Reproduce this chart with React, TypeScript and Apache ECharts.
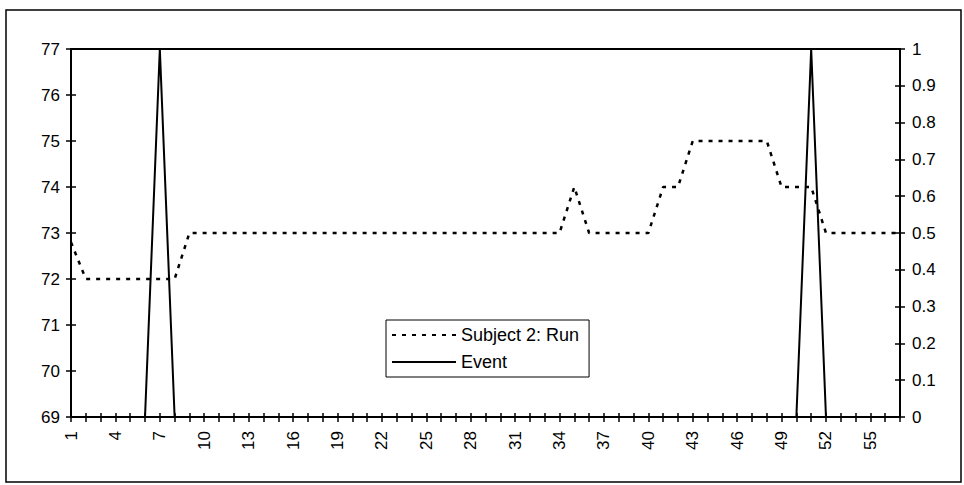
import React, { useEffect, useRef } from "react";
import * as echarts from "echarts";

const categories: string[] = Array.from({ length: 57 }, (_, i) => String(i + 1));

const runValues: number[] = [
  72.8, 72, 72, 72, 72, 72, 72, 72, 73, 73,
  73, 73, 73, 73, 73, 73, 73, 73, 73, 73,
  73, 73, 73, 73, 73, 73, 73, 73, 73, 73,
  73, 73, 73, 73, 74, 73, 73, 73, 73, 73,
  74, 74, 75, 75, 75, 75, 75, 75, 74, 74,
  74, 73, 73, 73, 73, 73, 73,
];

const eventValues: number[] = [
  0, 0, 0, 0, 0, 0, 1, 0, 0, 0,
  0, 0, 0, 0, 0, 0, 0, 0, 0, 0,
  0, 0, 0, 0, 0, 0, 0, 0, 0, 0,
  0, 0, 0, 0, 0, 0, 0, 0, 0, 0,
  0, 0, 0, 0, 0, 0, 0, 0, 0, 0,
  1, 0, 0, 0, 0, 0, 0,
];

const seriesNames = ["Subject 2: Run", "Event"];

const FONT = "Liberation Sans, Arial, sans-serif";

export default function App() {
  const ref = useRef<HTMLDivElement>(null);
  useEffect(() => {
    if (!ref.current) return;
    const chart = echarts.init(ref.current, null, { renderer: "svg" });
    const axisLine = { show: true, lineStyle: { color: "#000", width: 2 } };
    const tickStyle = { color: "#000", width: 1.5 };
    chart.setOption({
      animation: false,
      backgroundColor: "#fff",
      grid: {
        left: 71,
        right: 64,
        top: 49,
        bottom: 68,
        show: true,
        borderColor: "#000",
        borderWidth: 2,
      },
      graphic: [
        {
          type: "rect",
          shape: { x: 6, y: 10, width: 955, height: 472 },
          style: { fill: "none", stroke: "#000", lineWidth: 1.5 },
          silent: true,
        },
      ],
      legend: {
        orient: "vertical",
        left: 386,
        top: 320,
        data: seriesNames,
        itemWidth: 64,
        itemHeight: 14,
        itemGap: 9,
        borderColor: "#000",
        borderWidth: 1,
        padding: [6, 10, 6, 5],
        backgroundColor: "#fff",
        itemStyle: { color: "transparent", borderWidth: 0, opacity: 0 },
        textStyle: { fontFamily: FONT, fontSize: 18, color: "#000" },
      },
      xAxis: [
        {
          type: "category",
          data: categories,
          boundaryGap: false,
          axisLine,
          axisTick: { show: true, interval: 0, length: 5, lineStyle: tickStyle },
          axisLabel: {
            interval: 2,
            rotate: 90,
            margin: 14,
            fontFamily: FONT,
            fontSize: 17,
            color: "#000",
          },
          splitLine: { show: false },
        },
        {
          type: "category",
          data: categories,
          boundaryGap: false,
          position: "bottom",
          axisLine: { show: false },
          axisTick: { show: true, inside: true, interval: 0, length: 4, lineStyle: tickStyle },
          axisLabel: { show: false },
          splitLine: { show: false },
        },
      ],
      yAxis: [
        {
          type: "value",
          min: 69,
          max: 77,
          interval: 1,
          position: "left",
          axisLine,
          axisTick: { show: true, length: 5, lineStyle: tickStyle },
          axisLabel: { margin: 11, fontFamily: FONT, fontSize: 17, color: "#000" },
          splitLine: { show: false },
        },
        {
          type: "value",
          min: 0,
          max: 1,
          interval: 0.1,
          position: "right",
          axisLine,
          axisTick: { show: true, length: 5, lineStyle: tickStyle },
          axisLabel: { margin: 12, fontFamily: FONT, fontSize: 17, color: "#000" },
          splitLine: { show: false },
        },
        {
          type: "value",
          min: 69,
          max: 77,
          interval: 1,
          position: "left",
          axisLine: { show: false },
          axisTick: { show: true, inside: true, length: 5, lineStyle: tickStyle },
          axisLabel: { show: false },
          splitLine: { show: false },
        },
        {
          type: "value",
          min: 0,
          max: 1,
          interval: 0.1,
          position: "right",
          axisLine: { show: false },
          axisTick: { show: true, inside: true, length: 5, lineStyle: tickStyle },
          axisLabel: { show: false },
          splitLine: { show: false },
        },
      ],
      series: [
        {
          name: seriesNames[0],
          type: "line",
          data: runValues,
          xAxisIndex: 0,
          yAxisIndex: 0,
          symbol: "none",
          lineStyle: { color: "#000", width: 2.5, type: [4, 6] },
          itemStyle: { color: "#000" },
        },
        {
          name: seriesNames[1],
          type: "line",
          data: eventValues,
          xAxisIndex: 0,
          yAxisIndex: 1,
          symbol: "none",
          lineStyle: { color: "#000", width: 2 },
          itemStyle: { color: "#000" },
        },
      ],
    });
    return () => chart.dispose();
  }, []);
  return (
    <div
      ref={ref}
      style={{ position: "absolute", left: 0, top: 0, width: 964, height: 485 }}
    />
  );
}
